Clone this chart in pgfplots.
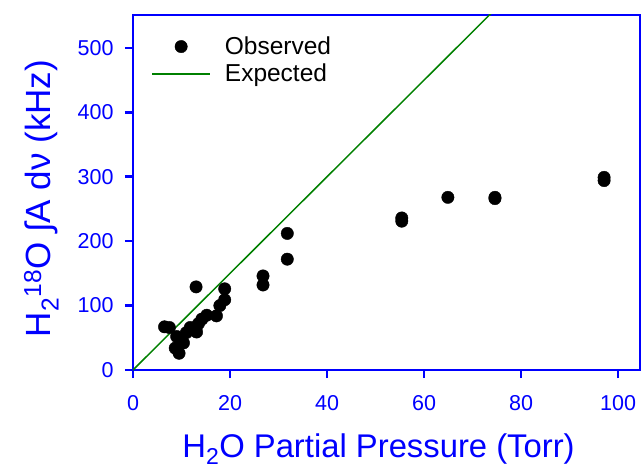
\documentclass[border=0pt]{standalone}
\usepackage{pgfplots}
\pgfplotsset{compat=1.18}
\usepackage{fontspec}
\setmainfont{Liberation Sans}
\pgfplotsset{
  obslegend/.style={legend image code/.code={\draw[mark repeat=2,mark phase=2,##1] plot coordinates {(0pt,0pt) (29pt,0pt) (58pt,0pt)};}},
  explegend/.style={legend image code/.code={\draw[##1] (0pt,0pt) -- (58pt,0pt);}},
}
\begin{document}
\begin{tikzpicture}
\begin{axis}[
  name=ax,
  scale only axis,
  width=507pt, height=355pt,
  xmin=0, xmax=104.5, ymin=0, ymax=551,
  xtick={0,20,...,100}, ytick={0,100,...,500},
  tick align=outside, xtick pos=left, ytick pos=left,
  major tick length=8pt,
  every tick/.style={blue, line width=2.5pt},
  axis line style={blue, line width=2.5pt},
  /pgf/number format/assume math mode=true,
  ticklabel style={font=\fontsize{21.5}{22}\selectfont, text=blue},
  xticklabel style={yshift=-14pt},
  yticklabel style={xshift=-8pt},
  xlabel={H\textsubscript{2}O Partial Pressure (Torr)},
  ylabel={H\textsubscript{2}\textsuperscript{18}O ∫A dν (kHz)},
  label style={text=blue},
  xlabel style={font=\fontsize{32.8}{34}\selectfont, yshift=-16pt, xshift=-8pt},
  ylabel style={font=\fontsize{35}{38}\selectfont, yshift=12pt, xshift=-6pt},
  clip=true,
  legend cell align=left,
  legend style={draw=none, fill=none, at={(0.03,0.95)}, anchor=north west,
    font=\fontsize{24.5}{27}\selectfont, row sep=4pt,
    /tikz/every odd column/.append style={column sep=12pt}},
]
\addplot[only marks, mark=*, mark size=6.2pt, black, obslegend]
  coordinates {
  (6.5,67) (7.5,66) (9.0,52) (8.7,34) (9.5,26) (10.4,42) (11.0,58)
  (11.8,66) (12.5,62) (13.1,59) (13.5,72) (14.2,79) (15.2,85) (17.2,84)
  (17.9,100) (18.9,109) (18.9,126) (13.0,129) (26.8,146) (26.8,132)
  (31.8,212) (31.8,172) (55.4,236) (55.4,231) (64.9,268) (74.6,268)
  (74.6,266) (97.1,299) (97.1,294)
  };
\addlegendentry{Observed}
\addplot[color={rgb,255:red,0;green,128;blue,0}, line width=1.5pt, explegend]
  coordinates {(0,0) (80,600)};
\addlegendentry{Expected}
\end{axis}
\pgfresetboundingbox
\path[use as bounding box] ([shift={(-133pt,-99pt)}]ax.south west) rectangle ([shift={(1pt,15pt)}]ax.north east);
\end{tikzpicture}
\end{document}
